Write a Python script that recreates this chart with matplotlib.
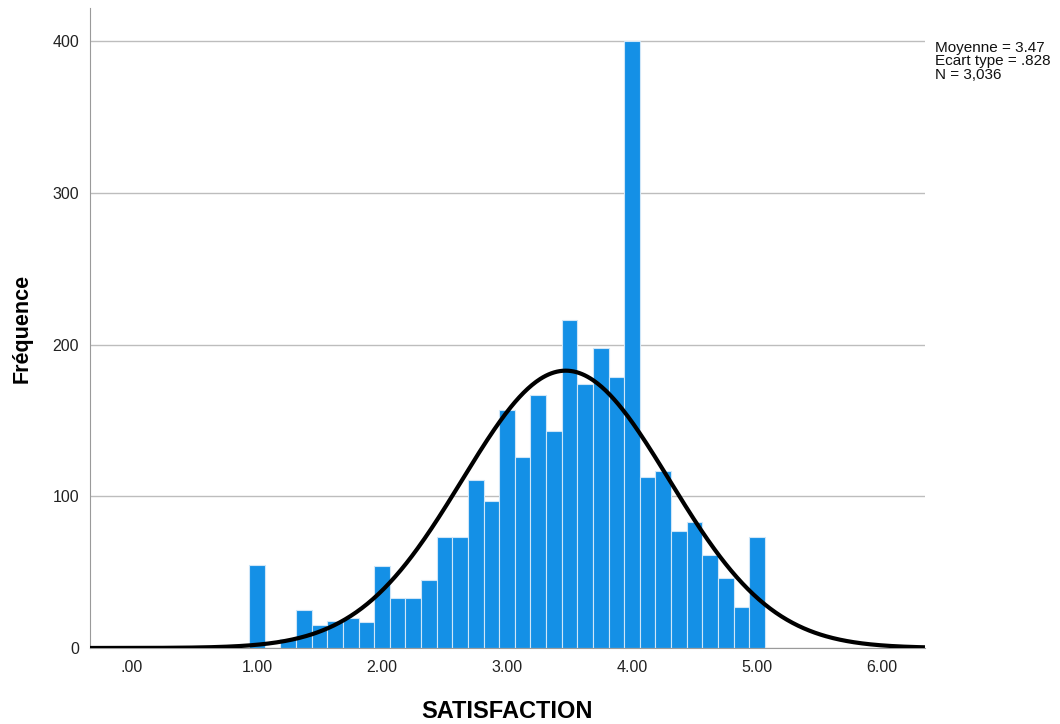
import numpy as np
import matplotlib
matplotlib.use("Agg")
import matplotlib.pyplot as plt

plt.rcParams["font.family"] = ["Liberation Sans", "DejaVu Sans"]

# bin centres (width 0.125) and frequencies
bin_centers = [1.0, 1.125, 1.25, 1.375, 1.5, 1.625, 1.75, 1.875,
               2.0, 2.125, 2.25, 2.375, 2.5, 2.625, 2.75, 2.875,
               3.0, 3.125, 3.25, 3.375, 3.5, 3.625, 3.75, 3.875,
               4.0, 4.125, 4.25, 4.375, 4.5, 4.625, 4.75, 4.875, 5.0]
counts = [55, 0, 6, 25, 15, 18, 20, 17,
          54, 33, 33, 45, 73, 73, 111, 97,
          157, 126, 167, 143, 216, 174, 198, 179,
          400, 113, 117, 77, 83, 61, 46, 27, 73]
bin_width = 0.125

mean = 3.47
std = 0.828
n_obs = 3036

x_ticks = [0, 1, 2, 3, 4, 5, 6]
x_tick_labels = [".00", "1.00", "2.00", "3.00", "4.00", "5.00", "6.00"]
y_ticks = [0, 100, 200, 300, 400]

fig = plt.figure(figsize=(10.6, 7.24), dpi=100)
ax = fig.add_axes([0.0849, 0.105, 0.7877, 0.884])

ax.bar(bin_centers, counts, width=bin_width, color="#1490E6",
       edgecolor="#CFE6F8", linewidth=0.8, zorder=2)

x_lo, x_hi = -0.336, 6.344
xs = np.linspace(x_lo, x_hi, 600)
pdf = n_obs * bin_width / (std * np.sqrt(2 * np.pi)) * np.exp(-0.5 * ((xs - mean) / std) ** 2)
ax.plot(xs, pdf, color="black", linewidth=3, zorder=3, solid_capstyle="butt")

ax.set_xlim(x_lo, x_hi)
ax.set_ylim(0, 422)
ax.set_yticks(y_ticks)
ax.set_xticks(x_ticks)
ax.set_xticklabels(x_tick_labels)
ax.tick_params(axis="both", length=0, labelsize=11.5, colors="#222222")
ax.tick_params(axis="x", pad=9)
ax.tick_params(axis="y", pad=8)

ax.yaxis.grid(True, color="#BDBDBD", linewidth=1.0, zorder=0)
ax.set_axisbelow(True)

for side in ["top", "right"]:
    ax.spines[side].set_visible(False)
ax.spines["left"].set_color("#9A9A9A")
ax.spines["bottom"].set_color("#9A9A9A")

ax.set_xlabel("SATISFACTION", fontsize=17, fontweight="bold", labelpad=18)
ax.set_ylabel("Fréquence", fontsize=15.5, fontweight="bold", labelpad=14)

fig.text(0.882, 0.943, "Moyenne = 3.47\nEcart type = .828\nN = 3,036",
         fontsize=11, va="top", ha="left", linespacing=0.92, color="#111111")

fig.savefig("out.png", dpi=100)
